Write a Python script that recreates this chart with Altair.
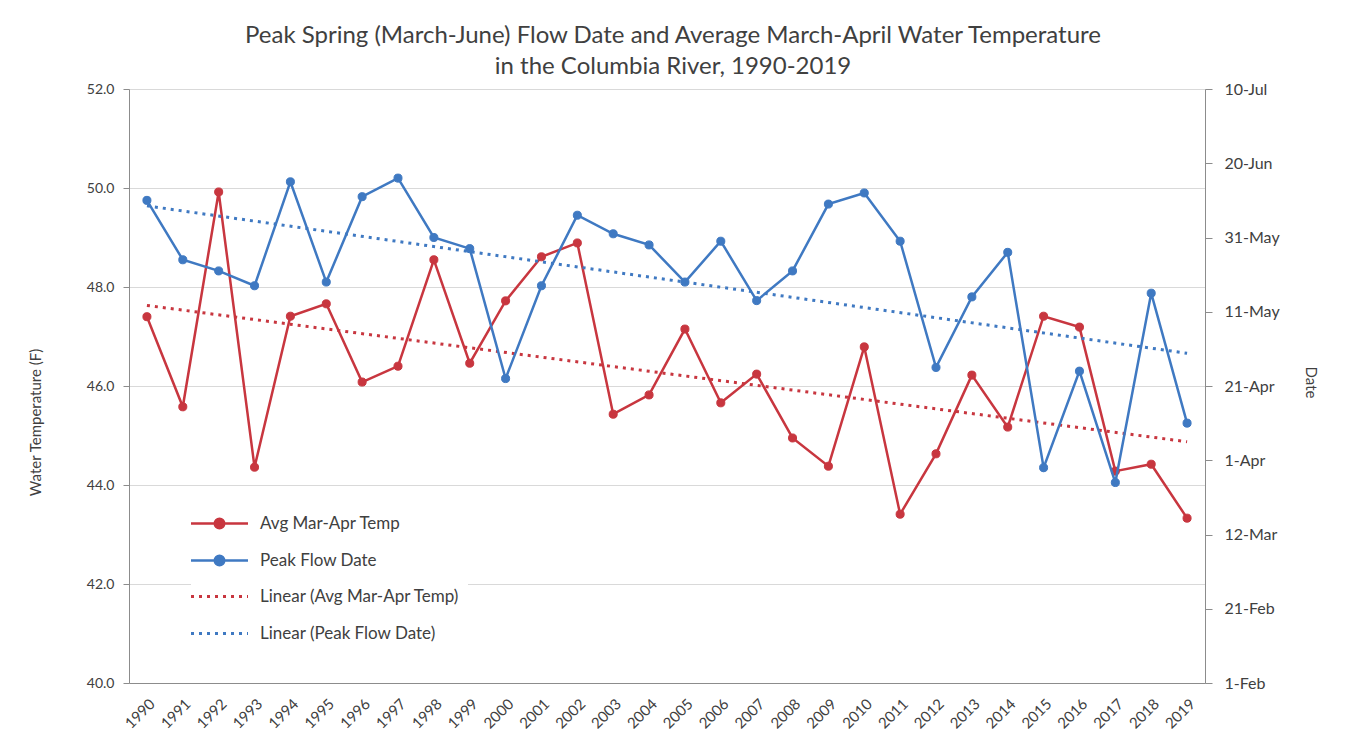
import altair as alt
import pandas as pd

# ---------------- data ----------------
years = list(range(1990, 2020))
avg_temp = [47.40, 45.58, 49.92, 44.36, 47.41, 47.66, 46.08, 46.40, 48.55, 46.46,
            47.72, 48.61, 48.89, 45.43, 45.82, 47.15, 45.66, 46.24, 44.95, 44.38,
            46.79, 43.41, 44.63, 46.22, 45.17, 47.41, 47.19, 44.28, 44.42, 43.33]
# peak flow date, as days after 1-Feb
peak_days = [130, 114, 111, 107, 135, 108, 131, 136, 120, 117,
             82, 107, 126, 121, 118, 108, 119, 103, 111, 129,
             132, 119, 85, 104, 116, 58, 84, 54, 105, 70]

series_names = ["Avg Mar-Apr Temp", "Peak Flow Date"]
trend_names = ["Linear (Avg Mar-Apr Temp)", "Linear (Peak Flow Date)"]
temp_ticks = [40, 42, 44, 46, 48, 50, 52]
date_tick_values = [0, 20, 40, 60, 80, 100, 120, 140, 160]
date_tick_labels = ["1-Feb", "21-Feb", "12-Mar", "1-Apr", "21-Apr",
                    "11-May", "31-May", "20-Jun", "10-Jul"]
title_lines = ["Peak Spring (March-June) Flow Date and Average March-April Water Temperature",
               "in the Columbia River, 1990-2019"]

RED = "#C8363F"
BLUE = "#3F79C2"
FONT = "Lato"
TXT = "#404040"
AX = "#8C8C8C"

temp_df = pd.DataFrame({"year": years, "value": avg_temp, "series": series_names[0]})
flow_df = pd.DataFrame({"year": years, "value": peak_days, "series": series_names[1]})

x_enc = alt.X("year:Q",
              scale=alt.Scale(domain=[1989.5, 2019.5], nice=False, zero=False),
              axis=alt.Axis(values=years, format="d", labelAngle=-45, ticks=False,
                            grid=False, domainColor=AX, labelFont=FONT, labelFontSize=15,
                            labelColor=TXT, labelPadding=13, title=None))

point_legend = alt.Legend(title=None, orient="none", legendX=62, legendY=406,
                          symbolType="M-1.5,0L1.5,0M-0.25,0A0.25,0.25,0,1,1,0.25,0A0.25,0.25,0,1,1,-0.25,0Z",
                          symbolSize=1444, symbolStrokeWidth=2.5, labelOffset=20,
                          labelFont=FONT, labelFontSize=17, labelColor=TXT, labelLimit=0,
                          fillColor="white", padding=8, rowPadding=6)
trend_legend = alt.Legend(title=None, orient="none", legendX=62, legendY=479,
                          symbolType="M-1.5,0L1.5,0", symbolSize=1444,
                          symbolStrokeWidth=3, symbolDash=[3, 5], labelOffset=20,
                          labelFont=FONT, labelFontSize=17, labelColor=TXT, labelLimit=0,
                          fillColor="white", padding=8, rowPadding=8)

fill_scale = alt.Scale(domain=series_names, range=[RED, BLUE])
trend_scale = alt.Scale(domain=trend_names, range=[RED, BLUE])


def series_layers(df, y_enc, color, trend_label):
    base = alt.Chart(df)
    line = base.mark_line(color=color, strokeWidth=2.5).encode(x=x_enc, y=y_enc)
    pts = base.mark_point(filled=True, size=65, opacity=1, strokeWidth=1).encode(
        x=x_enc, y=y_enc,
        fill=alt.Fill("series:N", scale=fill_scale, legend=point_legend),
        stroke=alt.Stroke("series:N", scale=fill_scale, legend=point_legend))
    trend = base.transform_regression("year", "value").transform_calculate(
        trend=f"'{trend_label}'").mark_line(strokeWidth=3, strokeDash=[3, 5]).encode(
        x=x_enc, y=y_enc,
        color=alt.Color("trend:N", scale=trend_scale, legend=trend_legend))
    return alt.layer(line, pts, trend)


temp_y = alt.Y("value:Q",
               scale=alt.Scale(domain=[40, 52], nice=False, zero=False),
               axis=alt.Axis(values=temp_ticks, format=".1f", title="Water Temperature (F)",
                             orient="left", grid=True, gridColor="#D9D9D9", domainColor=AX,
                             tickColor=AX, tickSize=6, labelFont=FONT, labelFontSize=14,
                             labelColor=TXT, labelPadding=9, titleFont=FONT,
                             titleFontSize=15, titleFontWeight="normal", titleColor=TXT,
                             titleX=-94, titleY=333, titleBaseline="middle"))

label_expr = "[" + ",".join(f"'{s}'" for s in date_tick_labels) + "][round(datum.value/20)]"
flow_y = alt.Y("value:Q",
               scale=alt.Scale(domain=[0, 160], nice=False, zero=False),
               axis=alt.Axis(values=date_tick_values, labelExpr=label_expr, title="Date",
                             orient="right", grid=False, domainColor=AX, tickColor=AX,
                             tickSize=7, labelFont=FONT, labelFontSize=16, labelColor=TXT,
                             labelPadding=12, titleFont=FONT, titleFontSize=15,
                             titleFontWeight="normal", titleColor=TXT,
                             titleX=105, titleY=293, titleBaseline="middle"))

chart = alt.layer(
    series_layers(temp_df, temp_y, RED, trend_names[0]),
    series_layers(flow_df, flow_y, BLUE, trend_names[1]),
).resolve_scale(y="independent").properties(
    width=1076, height=594,
    padding={"left": 121, "top": 81, "right": 135, "bottom": 64},
    autosize=alt.AutoSizeParams(type="none"),
    title=alt.TitleParams(text=title_lines, font=FONT, fontSize=24, fontWeight="normal",
                          color=TXT, lineHeight=31, offset=2, anchor="middle", dx=6),
).configure_view(stroke=None).configure(background="white")

chart.save("out.html", embed_options={"renderer": "svg", "actions": False})
